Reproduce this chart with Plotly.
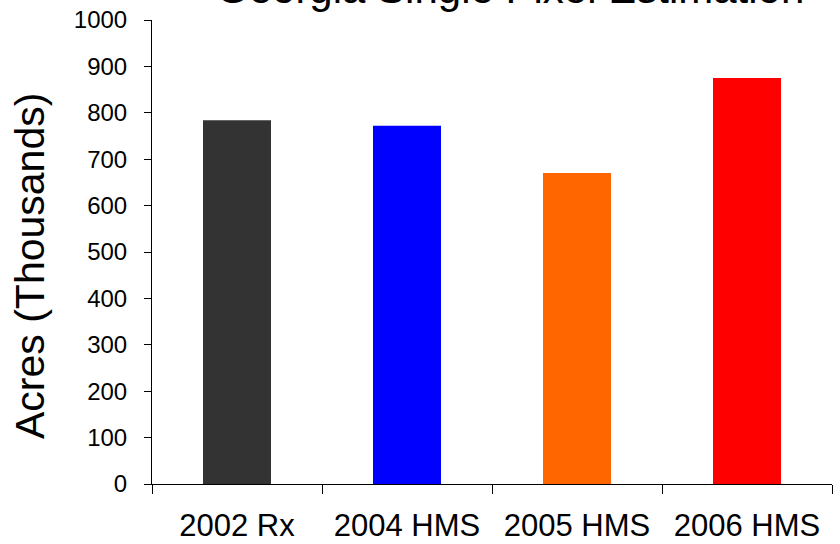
import plotly.graph_objects as go

# Estimated burned area per data source
categories = ["2002 Rx", "2004 HMS", "2005 HMS", "2006 HMS"]
acres_thousands = [784, 772, 670, 875]
bar_colors = ["#333333", "#0000FF", "#FF6600", "#FF0000"]
y_ticks = [0, 100, 200, 300, 400, 500, 600, 700, 800, 900, 1000]

FONT = "Liberation Sans, Arial, sans-serif"

fig = go.Figure(
    go.Bar(
        x=categories,
        y=acres_thousands,
        marker=dict(color=bar_colors, line=dict(width=0)),
        width=0.4,
    )
)

fig.update_layout(
    width=840,
    height=544,
    margin=dict(l=152, r=8, t=20, b=60),
    paper_bgcolor="white",
    plot_bgcolor="white",
    showlegend=False,
    font=dict(family=FONT, color="black"),
    annotations=[
        dict(
            text="Georgia Single Pixel Estimation",
            xref="paper", yref="paper",
            x=(510 - 152) / 680, y=1.067,
            xanchor="center", yanchor="middle",
            showarrow=False,
            font=dict(family=FONT, size=42, color="black"),
        ),
        dict(
            text="Acres (Thousands)",
            xref="paper", yref="paper",
            x=-(152 - 30) / 680, y=(484 - 266) / 464,
            xanchor="center", yanchor="middle",
            textangle=-90,
            showarrow=False,
            font=dict(family=FONT, size=41, color="black"),
        ),
    ],
)

fig.update_xaxes(
    type="category",
    range=[-0.5, 3.5],
    automargin=False,
    showline=True,
    linecolor="black",
    linewidth=1,
    ticks="outside",
    tickson="boundaries",
    ticklen=9,
    tickcolor="black",
    tickfont=dict(family=FONT, size=31, color="black"),
    ticklabelstandoff=14,
    showgrid=False,
    zeroline=False,
)

fig.update_yaxes(
    range=[0, 1000],
    automargin=False,
    tickmode="array",
    tickvals=y_ticks,
    ticktext=[str(v) for v in y_ticks],
    showline=True,
    linecolor="black",
    linewidth=1,
    ticks="outside",
    ticklen=7,
    tickcolor="black",
    tickfont=dict(family=FONT, size=24, color="black"),
    ticklabelstandoff=12,
    showgrid=False,
    zeroline=False,
)

fig.write_html("out.html")
